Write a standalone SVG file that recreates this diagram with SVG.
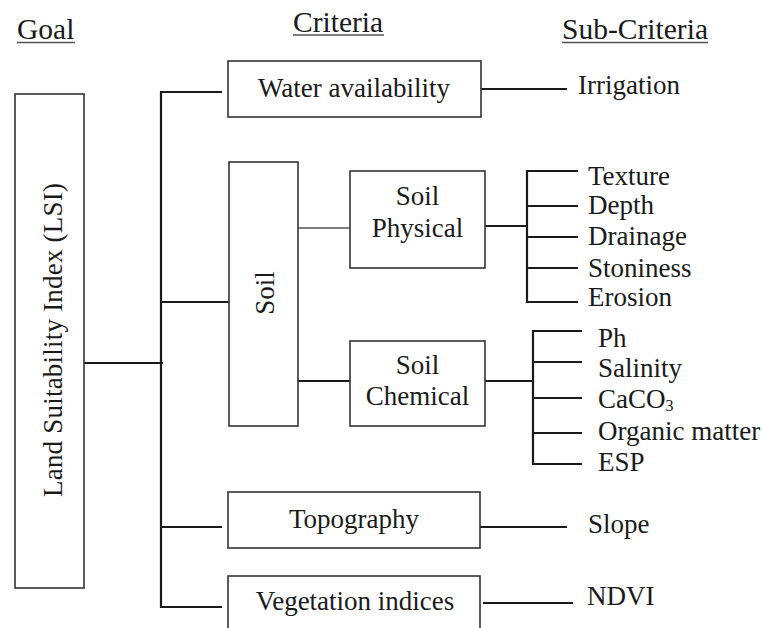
<svg xmlns="http://www.w3.org/2000/svg" width="763" height="628" viewBox="0 0 763 628">
<style>
text{font-family:"Liberation Serif","Times New Roman",serif;fill:#1a1a1a}
.h{font-size:29.5px}
.t{font-size:27px}
.box{fill:#fff;stroke:#333;stroke-width:1.6}
.c line{stroke:#1a1a1a;stroke-width:2.2}
.c line.thin{stroke:#555;stroke-width:1.5}
.u{stroke:#555;stroke-width:1.3}
</style>
<rect width="763" height="628" fill="#fff"/>
<g id="headers">
<text class="h" x="17" y="39">Goal</text>
<line class="u" x1="17" y1="42.5" x2="75" y2="42.5"/>
<text class="h" x="293" y="32">Criteria</text>
<line class="u" x1="293" y1="35" x2="384" y2="35"/>
<text class="h" x="562" y="39" textLength="146" lengthAdjust="spacingAndGlyphs">Sub-Criteria</text>
<line class="u" x1="562" y1="42.5" x2="708" y2="42.5"/>
</g>
<g class="c" id="connectors">
<line x1="84" y1="363" x2="163" y2="363"/>
<line x1="161" y1="91" x2="161" y2="608"/>
<line x1="160" y1="92" x2="222" y2="92"/>
<line x1="160" y1="302" x2="229" y2="302"/>
<line x1="160" y1="527" x2="222" y2="527"/>
<line x1="160" y1="607" x2="222" y2="607"/>
<line x1="481" y1="89" x2="567" y2="89"/>
<line class="thin" x1="298" y1="228" x2="350" y2="228"/>
<line x1="298" y1="381" x2="350" y2="381"/>
<line x1="485" y1="226" x2="527" y2="226"/>
<line x1="527" y1="170" x2="527" y2="303"/>
<line x1="526" y1="171" x2="578" y2="171"/>
<line x1="526" y1="206" x2="578" y2="206"/>
<line x1="526" y1="237" x2="578" y2="237"/>
<line x1="526" y1="268" x2="578" y2="268"/>
<line x1="526" y1="302" x2="578" y2="302"/>
<line x1="485" y1="381" x2="533" y2="381"/>
<line x1="533" y1="330" x2="533" y2="465"/>
<line x1="532" y1="331" x2="582" y2="331"/>
<line x1="532" y1="362" x2="582" y2="362"/>
<line x1="532" y1="398" x2="582" y2="398"/>
<line x1="532" y1="433" x2="582" y2="433"/>
<line x1="532" y1="464" x2="582" y2="464"/>
<line x1="480" y1="527" x2="567" y2="527"/>
<line x1="483" y1="603" x2="573" y2="603"/>
</g>
<g id="goal">
<rect class="box" x="15" y="94" width="69" height="494"/>
<text class="t" transform="translate(62,340) rotate(-90)" text-anchor="middle" textLength="314" lengthAdjust="spacing">Land Suitability Index (LSI)</text>
</g>
<g id="water">
<rect class="box" x="228" y="61" width="253" height="56"/>
<text class="t" x="354" y="97" text-anchor="middle">Water availability</text>
</g>
<g id="soil">
<rect class="box" x="229" y="162" width="69" height="264"/>
<text class="t" transform="translate(274,293) rotate(-90)" text-anchor="middle">Soil</text>
</g>
<g id="soil-physical">
<rect class="box" x="350" y="171" width="135" height="97"/>
<text class="t" x="417.5" y="205" text-anchor="middle">Soil</text>
<text class="t" x="417.5" y="237" text-anchor="middle">Physical</text>
</g>
<g id="soil-chemical">
<rect class="box" x="350" y="341" width="135" height="85"/>
<text class="t" x="417.5" y="374" text-anchor="middle">Soil</text>
<text class="t" x="417.5" y="405" text-anchor="middle">Chemical</text>
</g>
<g id="topography">
<rect class="box" x="228" y="492" width="252" height="56"/>
<text class="t" x="354" y="528" text-anchor="middle">Topography</text>
</g>
<g id="vegetation">
<rect class="box" x="228" y="576" width="252" height="60"/>
<text class="t" x="355" y="610" text-anchor="middle">Vegetation indices</text>
</g>
<g id="sub-irrigation"><text class="t" x="578" y="94">Irrigation</text></g>
<g id="sub-texture"><text class="t" x="588" y="185">Texture</text></g>
<g id="sub-depth"><text class="t" x="588" y="214">Depth</text></g>
<g id="sub-drainage"><text class="t" x="588" y="245">Drainage</text></g>
<g id="sub-stoniness"><text class="t" x="588" y="277">Stoniness</text></g>
<g id="sub-erosion"><text class="t" x="588" y="306">Erosion</text></g>
<g id="sub-ph"><text class="t" x="598" y="347">Ph</text></g>
<g id="sub-salinity"><text class="t" x="598" y="377">Salinity</text></g>
<g id="sub-caco3"><text class="t" x="598" y="408">CaCO<tspan font-size="16" dy="3">3</tspan></text></g>
<g id="sub-organic"><text class="t" x="598" y="440">Organic matter</text></g>
<g id="sub-esp"><text class="t" x="598" y="471">ESP</text></g>
<g id="sub-slope"><text class="t" x="588" y="533">Slope</text></g>
<g id="sub-ndvi"><text class="t" x="587" y="605">NDVI</text></g>
</svg>
